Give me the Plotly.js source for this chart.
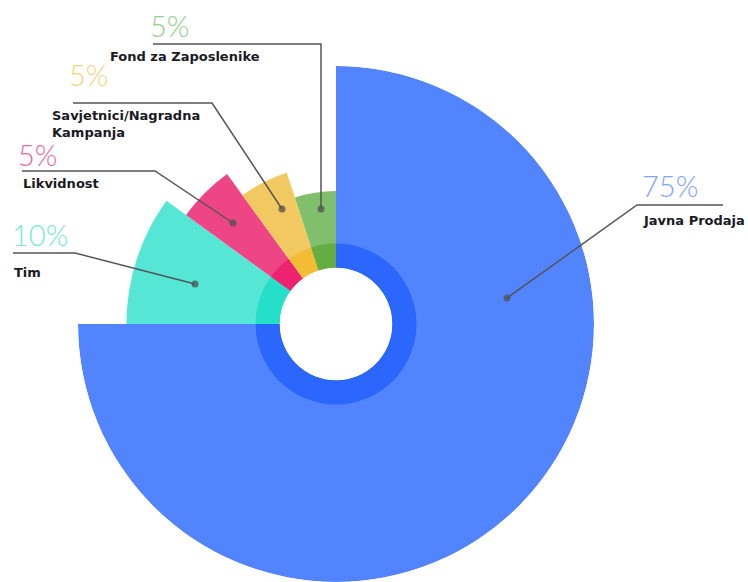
<!DOCTYPE html>
<html>
<head>
<meta charset="utf-8">
<script src="https://cdn.plot.ly/plotly-3.0.1.min.js"></script>
<style>html,body{margin:0;padding:0;background:#fff;}#chart{width:748px;height:582px;}</style>
</head>
<body>
<div id="chart"></div>
<script>
// ---- data ----
const categories = ["Javna Prodaja", "Tim", "Likvidnost", "Savjetnici/Nagradna<br>Kampanja", "Fond za Zaposlenike"];
const shares = [75, 10, 5, 5, 5];           // percent
const radius = [100, 76, 64, 51, 38];       // relative outer radius of each slice
const innerRing = [12, 12, 12, 12, 12];     // darker inner band
const percentLabels = ["75%", "10%", "5%", "5%", "5%"];
const outerColors = ["#5384FF", "#55E6D6", "#EE4584", "#F2C861", "#80BF6B"];
const innerColors = ["#2B67FF", "#26DFC9", "#ED2370", "#F2BD35", "#63AD42"];
const labelColors = ["#7EA4FF", "#74EAD9", "#F2649B", "#F6D27E", "#94D08A"];

// angular positions from shares
const total = shares.reduce((a, b) => a + b, 0);
const widths = shares.map(s => s / total * 360);
let acc = 0;
const thetas = widths.map(w => { const c = acc + w / 2; acc += w; return c; });

const W = 748, H = 582;
const px = x => x / W, py = y => 1 - y / H;

const traces = [
  {type: "barpolar", r: radius, theta: thetas, width: widths,
   marker: {color: outerColors, line: {width: 0}}, hoverinfo: "skip", showlegend: false},
  {type: "barpolar", r: innerRing, theta: thetas, width: widths,
   marker: {color: innerColors, line: {width: 0}}, hoverinfo: "skip", showlegend: false}
];

// leader lines (pixel coordinates of decoration)
const leaders = [
  [[507, 298], [637, 205], [723, 205]],
  [[195, 284], [75, 253], [13, 253]],
  [[233, 223], [155, 171], [22, 171]],
  [[282, 209], [212, 103], [73, 103]],
  [[321, 209], [321, 44], [153, 44]]
];
const shapes = [];
leaders.forEach(pts => {
  const path = "M " + pts.map(p => px(p[0]) + "," + py(p[1])).join(" L ");
  shapes.push({type: "path", xref: "paper", yref: "paper", path: path,
    line: {color: "#555", width: 1.5}});
  const d = pts[0];
  shapes.push({type: "circle", xref: "paper", yref: "paper",
    x0: px(d[0] - 3.5), x1: px(d[0] + 3.5), y0: py(d[1] + 3.5), y1: py(d[1] - 3.5),
    fillcolor: "rgba(80,80,80,0.75)", line: {width: 0}});
});

// label placement (pixel)
const pctPos = [[640, 186], [10, 234], [16, 155], [67, 74], [148, 26]];
const namePos = [[641, 220], [12, 272], [21, 183], [50, 124], [108, 57]];
const annotations = [];
categories.forEach((c, i) => {
  annotations.push({xref: "paper", yref: "paper", x: px(pctPos[i][0]), y: py(pctPos[i][1]),
    xanchor: "left", yanchor: "middle", showarrow: false, text: percentLabels[i],
    font: {family: "Lato, 'Open Sans', sans-serif", size: 29, weight: 300, color: labelColors[i]}});
  annotations.push({xref: "paper", yref: "paper", x: px(namePos[i][0]), y: py(namePos[i][1]),
    xanchor: "left", yanchor: "middle", align: "left", showarrow: false, text: "<b>" + c + "</b>",
    font: {family: "DejaVu Sans, sans-serif", size: 13, color: "#1a1a24"}});
});

const CX = 336, CY = 325, R = 259;
const layout = {
  width: W, height: H,
  margin: {l: 0, r: 0, t: 0, b: 0},
  paper_bgcolor: "#fff",
  showlegend: false,
  polar: {
    domain: {x: [px(CX - R), px(CX + R)], y: [py(CY + R), py(CY - R)]},
    hole: 0.218,
    bargap: 0,
    barmode: "overlay",
    bgcolor: "rgba(0,0,0,0)",
    angularaxis: {visible: false, rotation: 90, direction: "clockwise", showgrid: false, showline: false},
    radialaxis: {visible: false, range: [0, 100], showgrid: false, showline: false}
  },
  shapes: shapes,
  annotations: annotations
};

Plotly.newPlot("chart", traces, layout, {displayModeBar: false, staticPlot: true});
</script>
</body>
</html>
